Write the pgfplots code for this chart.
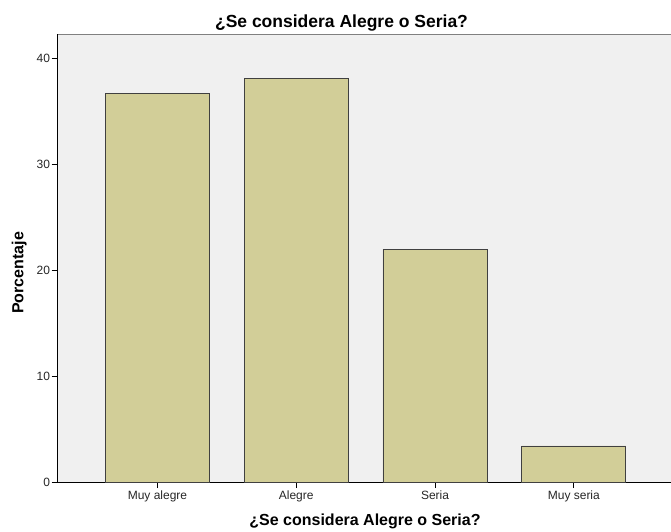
\documentclass[border=0pt]{standalone}
\usepackage{pgfplots}
\pgfplotsset{compat=1.18}
\usepackage{fontspec}
\setmainfont{Liberation Sans}
\definecolor{barfill}{HTML}{D2CE98}
\definecolor{plotbg}{HTML}{F0F0F0}

\begin{document}
\begin{tikzpicture}[x=1pt,y=1pt]
\path[use as bounding box] (0,0) rectangle (671,531);
\begin{axis}[
    at={(57.5pt,49pt)}, anchor=south west,
    scale only axis,
    width=613.5pt, height=448pt,
    axis background/.style={fill=plotbg},
    axis lines*=left,
    axis line style={black, line width=1pt},
    xmin=-0.72, xmax=3.70,
    ymin=0, ymax=42.3,
    xtick=data,
    xticklabels={Muy alegre, Alegre, Seria, Muy seria},
    ytick={0,10,20,30,40},
    tick align=outside,
    major tick length=6pt,
    tick style={black, line width=1pt},
    tick label style={font=\fontsize{12}{13}\selectfont, text=black!85},
    /pgf/number format/assume math mode=true,
    xticklabel style={yshift=1pt},
    yticklabel style={xshift=2pt},
    ybar, bar width=0.75,
]
\addplot[fill=barfill, draw=black!75, line width=0.9pt] coordinates {(0,36.7) (1,38.1) (2,22.0) (3,3.4)};
\draw[gray, line width=1pt] (rel axis cs:0,1) -- (rel axis cs:1,1);
\end{axis}
\node[font=\bfseries\fontsize{17.5}{20}\selectfont, anchor=base] at (341.5,503.5) {¿Se considera Alegre o Seria?};
\node[font=\bfseries\fontsize{16}{18}\selectfont, anchor=base] at (365,5.5) {¿Se considera Alegre o Seria?};
\node[font=\bfseries\fontsize{16}{18}\selectfont, rotate=90, anchor=base] at (23.5,258) {Porcentaje};
\end{tikzpicture}
\end{document}
